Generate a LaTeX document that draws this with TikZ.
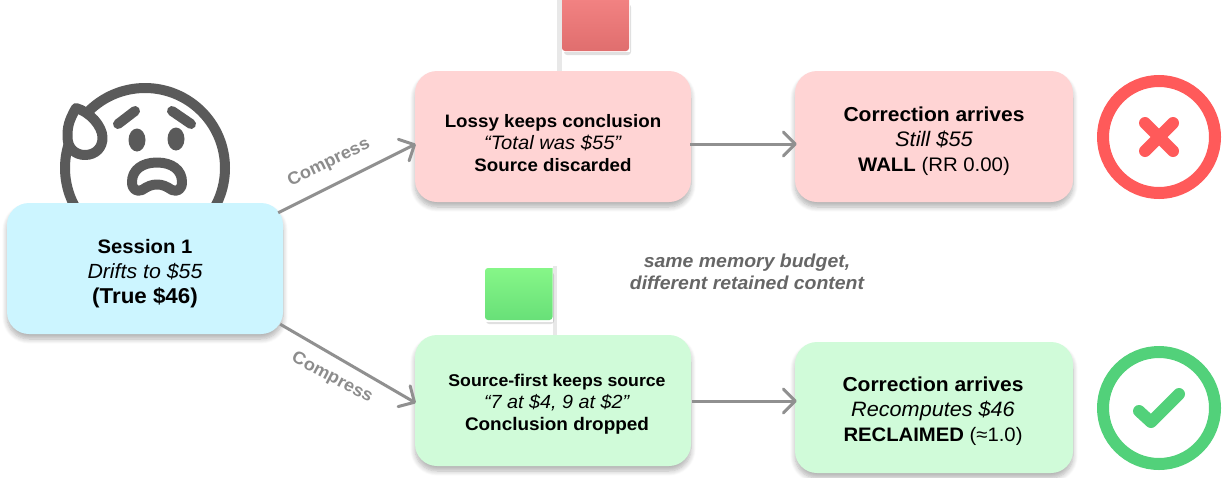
\documentclass[tikz,border=0pt]{standalone}
\usepackage{fontspec}
\setmainfont{Liberation Sans}[FakeStretch=1.04]
\usetikzlibrary{arrows.meta,calc,shadows.blur}
\definecolor{facegray}{HTML}{5A5A5A}
\definecolor{flowgray}{HTML}{909090}
\definecolor{notegray}{HTML}{666666}
\definecolor{comprgray}{HTML}{8C8C8C}
\definecolor{sessionfill}{HTML}{CCF5FF}
\definecolor{redfill}{HTML}{FFD4D4}
\definecolor{greenfill}{HTML}{D0FBD9}
\definecolor{badred}{HTML}{FF5A5A}
\definecolor{goodgreen}{HTML}{52D17A}
\definecolor{polegray}{HTML}{E8E8E8}
\definecolor{redtop}{HTML}{F28282}
\definecolor{redbot}{HTML}{E06E6E}
\definecolor{greentop}{HTML}{86F688}
\definecolor{greenbot}{HTML}{68E078}
\tikzset{
  softbox/.style={rounded corners=22pt,draw=none,inner sep=0pt,minimum height=131pt,minimum width=276pt,
    blur shadow={shadow xshift=0pt,shadow yshift=-5pt,shadow blur steps=8,shadow blur radius=5pt,shadow opacity=30}},
  boxtext/.style={align=center,inner sep=0pt,text=black},
  flow/.style={draw=flowgray,line width=3pt,-{Straight Barb[length=12pt,width=24pt,line width=3pt,round]}},
  faceline/.style={draw=facegray,line width=10pt,line cap=round,line join=round},
  ring/.style={line width=12pt},
  glyph/.style={line width=12pt,line cap=round,line join=round},
  compresslabel/.style={text=comprgray,font=\fontsize{17.5}{20}\selectfont\bfseries,inner sep=0pt},
  notelabel/.style={text=notegray,font=\fontsize{18.7}{22}\selectfont\bfseries\itshape,align=center,inner sep=0pt},
  pole/.style={fill=polegray,draw=none},
  flagshadow/.style={fill=black,opacity=0.12},
}
\newcommand{\fa}{\fontsize{18}{22}\selectfont}
\newcommand{\fb}{\fontsize{19}{25}\selectfont}
\newcommand{\sz}[2]{{\fontsize{#1}{25}\selectfont #2}}
\begin{document}
\begin{tikzpicture}[x=1pt,y=-1pt]
\useasboundingbox (0,0) rectangle (1225,477);
% face
\draw[faceline] (145,168) circle[radius=80];
\draw[faceline,fill=white] (76,108) .. controls (68,122) and (67.5,128) .. (67.5,137)
   .. controls (67.5,148) and (75,155) .. (85,155)
   .. controls (96,155) and (103,147) .. (102.5,137)
   .. controls (102,126) and (90,112) .. (76,108) -- cycle;
\draw[faceline] (118,124) -- (135,111);
\draw[faceline] (172,111) -- (191,124);
\fill[facegray] (137,140) ellipse[x radius=8.5,y radius=11.5];
\fill[facegray] (176,139) ellipse[x radius=8.5,y radius=11.5];
\draw[faceline] (157,162.5) .. controls (142,162.5) and (132,170) .. (132,182)
   .. controls (132,190) and (137,192) .. (142,190)
   .. controls (148,186) and (152,184.5) .. (157,184.5)
   .. controls (162,184.5) and (166,186) .. (172,190)
   .. controls (177,192) and (182,190) .. (182,182)
   .. controls (182,170) and (172,162.5) .. (157,162.5) -- cycle;
% flags
\fill[pole] (557,0) rectangle (562,72);
\fill[flagshadow,rounded corners=3pt] (564,4) rectangle (631,55);
\fill[white] (562,0) rectangle (630,52);
\shade[top color=redtop,bottom color=redbot] (562,-1) -- (629,-1) [rounded corners=3pt] -- (629,51) -- (562,51) [sharp corners] -- cycle;
\fill[pole] (553,266) rectangle (557,336);
\fill[flagshadow,rounded corners=3pt] (486,272) rectangle (554,324);
\fill[white] (484,268) rectangle (553,322);
\shade[top color=greentop,bottom color=greenbot] (552.5,268) -- (488,268) [rounded corners=3pt] -- (485,268) -- (485,320) -- (552.5,320) [sharp corners] -- cycle;
% boxes
\node[softbox,fill=sessionfill] (session) at (145,268.5) {};
\node[softbox,fill=redfill] (lossy) at (553,136.5) {};
\node[softbox,fill=redfill,minimum width=278pt] (wall) at (934,136.5) {};
\node[softbox,fill=greenfill] (source) at (553,400.5) {};
\node[softbox,fill=greenfill,minimum width=278pt] (reclaimed) at (934,407.5) {};
% box texts
\node[boxtext,font=\fb] (sessiontext) at (145,274) {\sz{19.5}{\textbf{Session 1}}\\\sz{20.5}{\textit{Drifts to \$55}}\\\sz{21.5}{\textbf{(True \$46)}}};
\node[boxtext,font=\fa] (lossytext) at (553,143) {\textbf{Lossy keeps conclusion}\\\sz{19.4}{\textit{“Total was \$55”}}\\\textbf{Source discarded}};
\node[boxtext,font=\fb] (walltext) at (934,141) {\sz{20.2}{\textbf{Correction arrives}}\\\sz{21}{\textit{Still \$55}}\\\sz{19.6}{\textbf{WALL} (RR 0.00)}};
\node[boxtext,font=\fa] (sourcetext) at (557,404) {\sz{17}{\textbf{Source-first keeps source}}\\\sz{19}{\textit{“7 at \$4, 9 at \$2”}}\\\sz{18.2}{\textbf{Conclusion dropped}}};
\node[boxtext,font=\fb] (reclaimedtext) at (933,411.5) {\sz{20.2}{\textbf{Correction arrives}}\\\sz{20.8}{\textit{Recomputes \$46}}\\\sz{19.5}{\textbf{RECLAIMED} (≈1.0)}};
% connectors
\draw[flow] ($(session.north east)+(-5,10)$) -- ($(lossy.west)+(1,7.5)$);
\draw[flow] ($(session.south east)+(-3,-10)$) -- ($(source.west)+(1,2.5)$);
\draw[flow] ($(lossy.east)+(-1,7.5)$) -- ($(wall.west)+(2,7.5)$);
\draw[flow] ($(source.east)+(1,0.5)$) -- ($(reclaimed.west)+(2,-6.5)$);
% labels
\node[compresslabel,rotate=26] (c1) at (329,163) {Compress};
\node[compresslabel,rotate=-28] (c2) at (332,378) {Compress};
\node[notelabel] (note) at (747,272) {same memory budget,\\different retained content};
% verdicts
\node[draw=badred,ring,circle,minimum size=112pt,inner sep=0pt] (bad) at (1159,137) {};
\draw[badred,glyph] ($(bad.center)+(-14,-14)$) -- ($(bad.center)+(14,14)$);
\draw[badred,glyph] ($(bad.center)+(14,-14)$) -- ($(bad.center)+(-14,14)$);
\node[draw=goodgreen,ring,circle,minimum size=112pt,inner sep=0pt] (good) at (1159,408) {};
\draw[goodgreen,glyph] ($(good.center)+(-20,3)$) -- ($(good.center)+(-8,14)$) -- ($(good.center)+(20,-14)$);
\end{tikzpicture}
\end{document}
